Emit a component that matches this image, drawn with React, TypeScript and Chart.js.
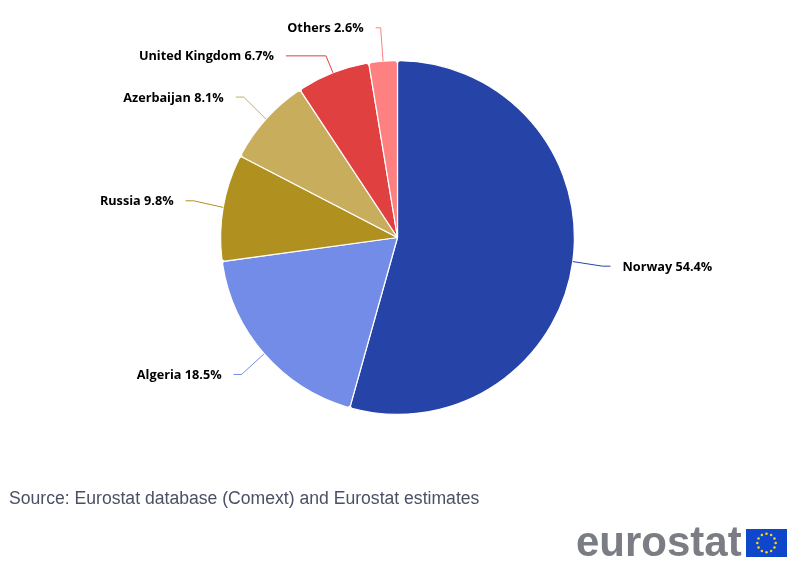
import React, { useEffect, useRef } from "react";
import { Chart, registerables } from "chart.js";

Chart.register(...registerables);

const categories = ["Norway", "Algeria", "Russia", "Azerbaijan", "United Kingdom", "Others"];
const shares = [54.4, 18.5, 9.8, 8.1, 6.7, 2.6];
const colors = ["#2644A7", "#728CE7", "#B09120", "#C8AE5C", "#E04040", "#FF8080"];
const sourceText = "Source: Eurostat database (Comext) and Eurostat estimates";
const logoText = "eurostat";

// Labels moved by the collision handling of the original chart: label offsets in px
const labelShift: Record<string, { dx: number; dy: number; run: number }> = {
  Norway: { dx: 0, dy: 0.5, run: 8 },
  Algeria: { dx: 0, dy: 1, run: 8 },
  Russia: { dx: 0, dy: -1.5, run: 8 },
  Azerbaijan: { dx: 0, dy: -2, run: 8 },
  "United Kingdom": { dx: 4, dy: 11, run: 40 },
  Others: { dx: 0, dy: -3.5, run: 5 },
};

const LABEL_DISTANCE = 30;

const labelPlugin = {
  id: "outsideLabels",
  afterDatasetsDraw(chart: any) {
    const { ctx } = chart;
    const arcs = chart.getDatasetMeta(0).data;
    ctx.save();
    ctx.font = 'bold 12.7px "Open Sans", "Noto Sans", sans-serif';
    ctx.textBaseline = "middle";
    arcs.forEach((arc: any, i: number) => {
      const mid = (arc.startAngle + arc.endAngle) / 2;
      const r = arc.outerRadius;
      const cos = Math.cos(mid);
      const sin = Math.sin(mid);
      const side = cos >= 0 ? 1 : -1;
      const name = categories[i];
      const shift = labelShift[name] ?? { dx: 0, dy: 0, run: 8 };
      const edgeX = arc.x + r * cos;
      const edgeY = arc.y + r * sin;
      const elbowX = arc.x + (r + LABEL_DISTANCE) * cos + shift.dx;
      const elbowY = arc.y + (r + LABEL_DISTANCE) * sin + shift.dy;
      const endX = elbowX + side * shift.run;
      ctx.beginPath();
      ctx.moveTo(edgeX, edgeY);
      ctx.lineTo(elbowX, elbowY);
      ctx.lineTo(endX, elbowY);
      ctx.strokeStyle = colors[i];
      ctx.lineWidth = 1;
      ctx.stroke();
      ctx.fillStyle = "#000000";
      ctx.textAlign = side > 0 ? "left" : "right";
      ctx.fillText(`${name} ${shares[i].toFixed(1)}%`, endX + side * 12, elbowY + 1);
    });
    ctx.restore();
  },
};

function Flag() {
  const stars = Array.from({ length: 12 }, (_, i) => {
    const a = (i * Math.PI) / 6;
    return <circle key={i} cx={20.5 + 9.2 * Math.sin(a)} cy={14 - 9.2 * Math.cos(a)} r={1.25} fill="#FFD617" />;
  });
  return (
    <svg width={41} height={28} style={{ position: "absolute", left: 746, top: 529 }}>
      <rect width={41} height={28} fill="#0E47CB" />
      {stars}
    </svg>
  );
}

export default function App() {
  const ref = useRef<HTMLCanvasElement>(null);
  useEffect(() => {
    const chart = new Chart(ref.current!, {
      type: "pie",
      data: {
        labels: categories,
        datasets: [
          {
            data: shares,
            backgroundColor: colors,
            borderColor: "#ffffff",
            borderWidth: 1.2,
            borderRadius: 3,
          },
        ],
      },
      options: {
        responsive: false,
        animation: false,
        layout: { padding: { left: 220, right: 218, top: 60, bottom: 150 } },
        plugins: { legend: { display: false }, tooltip: { enabled: false }, title: { display: false } },
      },
      plugins: [labelPlugin],
    } as any);
    return () => chart.destroy();
  }, []);
  return (
    <div style={{ position: "absolute", left: 0, top: 0, width: 793, height: 565, overflow: "hidden", background: "#fff" }}>
      <canvas ref={ref} width={793} height={565} style={{ position: "absolute", left: 0, top: 0 }} />
      <div
        style={{
          position: "absolute",
          left: 9,
          top: 488,
          font: '17.6px "Liberation Sans", Arial, sans-serif',
          color: "#4B5065",
          whiteSpace: "nowrap",
        }}
      >
        {sourceText}
      </div>
      <div
        style={{
          position: "absolute",
          left: 576,
          top: 519,
          font: 'bold 42px/46px "Liberation Sans", Arial, sans-serif',
          color: "#7A7D84",
          whiteSpace: "nowrap",
        }}
      >
        {logoText}
      </div>
      <Flag />
    </div>
  );
}
